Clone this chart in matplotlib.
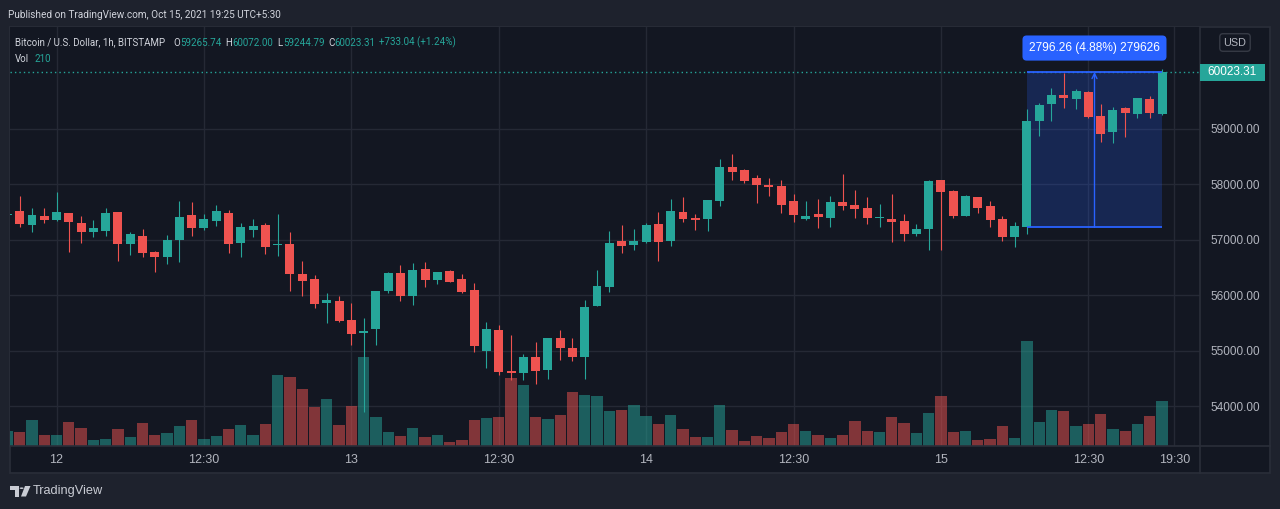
import matplotlib
matplotlib.use('Agg')
import matplotlib.pyplot as plt
import numpy as np
from matplotlib.patches import Rectangle, Polygon, Circle
from matplotlib.lines import Line2D
from matplotlib.transforms import blended_transform_factory

# ---------------- data (BTC/USD 1h, BITSTAMP) ----------------
opens = [57440, 57512, 57267, 57423, 57357, 57476, 57297, 57142, 57160, 57494,
         56927, 57064, 56778, 56694, 56999, 57441, 57214, 57339, 57476, 56945,
         57178, 57261, 56909, 56927, 56383, 56294, 55870, 55900, 55559, 55314,
         55398, 56079, 56401, 55995, 56473, 56282, 56437, 56294, 56097, 54992,
         55380, 54628, 54598, 54896, 54651, 55237, 55058, 54884, 55798, 56155,
         56978, 56906, 56960, 57284, 56978, 57500, 57392, 57374, 57699, 58311,
         58257, 58113, 57987, 57969, 57699, 57374, 57464, 57392, 57681, 57627,
         57573, 57392, 57374, 57338, 57104, 57194, 58077, 57879, 57429, 57771,
         57609, 57375, 57050, 57227.05, 59141, 59447, 59609, 59537, 59663, 59231,
         58942, 59375, 59267, 59537, 59265.74]
highs = [57490, 57781, 57566, 57566, 57853, 57476, 57423, 57351, 57566, 57494,
         57136, 57190, 56796, 57082, 57692, 57674, 57459, 57620, 57530, 57297,
         57369, 57297, 57459, 57136, 56616, 56365, 56043, 55989, 55864, 55595,
         56079, 56419, 56545, 56581, 56599, 56419, 56455, 56384, 56222, 55524,
         55470, 55291, 54950, 55165, 55237, 55380, 55237, 55918, 56455, 57158,
         57266, 57194, 57302, 57500, 57735, 57771, 57464, 57717, 58456, 58546,
         58275, 58167, 58113, 58077, 57825, 57699, 57735, 57789, 58185, 57897,
         57771, 57645, 57825, 57464, 57284, 58077, 58077, 57897, 57807, 57771,
         57699, 57429, 57321, 59357, 59465, 59735, 60006, 59717, 59681, 59447,
         59393, 59393, 59555, 59591, 60072.00]
lows = [57420, 57232, 57142, 57303, 57339, 56784, 56945, 57052, 57070, 56622,
        56730, 56694, 56425, 56569, 56604, 57070, 57178, 57250, 56766, 56694,
        57052, 56748, 56712, 56085, 55995, 55762, 55494, 55518, 55099, 53902,
        55099, 56049, 55906, 55834, 56157, 56210, 56246, 56049, 54974, 54687,
        54562, 54472, 54472, 54400, 54490, 54831, 54813, 54490, 55798, 56065,
        56762, 56816, 56942, 56617, 56888, 57320, 57176, 57158, 57609, 58077,
        58023, 57663, 57789, 57483, 57320, 57356, 57212, 57230, 57537, 57392,
        57284, 57230, 56960, 56978, 57068, 56816, 56816, 57393, 57429, 57483,
        57230, 56978, 56870, 57104, 58870, 59141, 59375, 59357, 59195, 58762,
        58744, 58852, 59195, 59195, 59244.79]
closes = [57470, 57285, 57441, 57357, 57494, 57321, 57142, 57208, 57476, 56927,
          57100, 56766, 56694, 56993, 57405, 57214, 57369, 57512, 56927, 57226,
          57244, 56873, 56927, 56390, 56264, 55852, 55918, 55529, 55297, 55362,
          56079, 56401, 55995, 56455, 56282, 56419, 56246, 56067, 55081, 55398,
          54616, 54598, 54896, 54634, 55237, 55046, 54884, 55792, 56169, 56942,
          56888, 56978, 57266, 56960, 57519, 57374, 57356, 57717, 58311, 58221,
          58059, 57987, 57951, 57627, 57447, 57428, 57410, 57681, 57609, 57555,
          57392, 57410, 57320, 57104, 57194, 58059, 57861, 57429, 57789, 57573,
          57357, 57050, 57249, 59141, 59429, 59609, 59555, 59681, 59213, 58906,
          59339, 59285, 59555, 59285, 60023.31]
volumes = [70, 65, 121, 51, 51, 112, 84, 28, 33, 79,
           42, 107, 51, 61, 93, 121, 33, 47, 79, 98,
           51, 103, 331, 322, 266, 182, 219, 98, 187, 415,
           135, 65, 47, 84, 42, 51, 19, 28, 121, 131,
           135, 317, 285, 135, 126, 145, 252, 238, 233, 163,
           168, 191, 140, 103, 145, 79, 42, 42, 191, 75,
           23, 47, 37, 65, 103, 70, 51, 37, 51, 117,
           70, 65, 135, 107, 61, 154, 233, 65, 70, 28,
           33, 93, 37, 490, 112, 168, 163, 93, 103, 149,
           79, 70, 103, 140, 210]
time_tick_idx = [4, 16, 28, 40, 52, 64, 76, 88, 95]
time_tick_labels = ['12', '12:30', '13', '12:30', '14', '12:30', '15', '12:30', '19:30']
price_ticks = [54000, 55000, 56000, 57000, 58000, 59000]
measure_start, measure_end = 83, 94
measure_low, measure_high = 57227.05, 60023.31
measure_label = '2796.26 (4.88%) 279626'
change_label = '+733.04 (+1.24%)'
last_close = closes[-1]

# ---------------- styling ----------------
W, H = 1280, 509
BG_OUT = '#1e222d'
BG_IN = '#131722'
FRAME = '#2a2e39'
GRID = '#252935'
UP = '#26a69a'
DOWN = '#ef5350'
TXT = '#d1d4dc'
AXTXT = '#b2b5be'
BLUE = '#2962ff'
NARROW = ['Roboto', 'DejaVu Sans']
SANS = ['Liberation Sans', 'DejaVu Sans']
HFS = 7.0

plt.rcParams['font.family'] = SANS

fig = plt.figure(figsize=(W / 100, H / 100), dpi=100)
fig.patch.set_facecolor(BG_OUT)


def fx(px):
    return px / W


def fy(py):
    return 1 - py / H


# chart frame (behind the axes)
fig.patches.append(Rectangle((fx(9.5), fy(473)), fx(1270) - fx(9.5), fy(26.5) - fy(473),
                             transform=fig.transFigure, facecolor=BG_IN, edgecolor=FRAME,
                             linewidth=1.2, zorder=-5))

rect = [fx(10), fy(446), fx(1200) - fx(10), fy(27) - fy(446)]
ax_v = fig.add_axes(rect)
ax_p = fig.add_axes(rect)
ax_v.set_zorder(1)
ax_p.set_zorder(2)
ax_v.set_facecolor(BG_IN)
ax_p.set_facecolor('none')

n = len(opens)
idx = np.arange(n)
o = np.array(opens, float)
h = np.array(highs, float)
l = np.array(lows, float)
c = np.array(closes, float)
v = np.array(volumes, float)
up = c >= o

xlim = (0.21, 97.09)
ylim = (53284, 60835)
ax_p.set_xlim(*xlim)
ax_v.set_xlim(*xlim)
ax_p.set_ylim(*ylim)
ax_v.set_ylim(0, 1955)

for a in (ax_v, ax_p):
    for s in a.spines.values():
        s.set_visible(False)

# grid
blend = blended_transform_factory(ax_v.transAxes, ax_p.transData)
for p in price_ticks:
    ax_v.plot([0, 1], [p, p], color=GRID, lw=1.0, transform=blend, zorder=0)
for t in time_tick_idx:
    ax_v.axvline(t, color=GRID, lw=1.0, zorder=0)

# volume
vcol = [UP if u else DOWN for u in up]
ax_v.bar(idx, v, width=0.92, color=vcol, alpha=0.5, linewidth=0, zorder=2)
ax_v.set_xticks([])
ax_v.set_yticks([])

# candles
ccol = [UP if u else DOWN for u in up]
px_price = (ylim[1] - ylim[0]) / 419.0
ax_p.vlines(idx, l, h, colors=ccol, linewidth=0.8, zorder=3)
body_bottom = np.minimum(o, c)
body_h = np.maximum(np.abs(c - o), px_price * 1.2)
ax_p.bar(idx, body_h, bottom=body_bottom, width=0.73, color=ccol, linewidth=0, zorder=4)

# last price dotted line
ax_p.axhline(last_close, color=UP, lw=1.0, ls=(0, (1, 2.2)), zorder=2)

# measure tool
ax_p.add_patch(Rectangle((measure_start, measure_low), measure_end - measure_start,
                         measure_high - measure_low, facecolor=BLUE, alpha=0.22,
                         edgecolor='none', zorder=1))
ax_p.hlines([measure_low, measure_high], measure_start, measure_end, colors=BLUE, lw=1.3, zorder=5)
mid = (measure_start + measure_end) / 2
ax_p.annotate('', xy=(mid, measure_high), xytext=(mid, measure_low),
              arrowprops=dict(arrowstyle='->', color=BLUE, lw=1.0, shrinkA=0, shrinkB=0,
                              mutation_scale=9), zorder=5)
ax_p.annotate(measure_label, xy=(mid, measure_high), xytext=(0, 24), textcoords='offset pixels',
              ha='center', va='center', color='white', fontsize=8.6, family=SANS,
              bbox=dict(boxstyle='round,pad=0.55,rounding_size=0.35', fc=BLUE, ec='none'),
              zorder=6, annotation_clip=False)

# axes ticks
ax_p.yaxis.tick_right()
ax_p.set_yticks(price_ticks)
ax_p.set_yticklabels([f'{p:.2f}' for p in price_ticks])
ax_p.tick_params(axis='y', length=0, pad=7.2, labelsize=8.5, labelcolor=AXTXT)
ax_p.set_xticks(time_tick_idx)
ax_p.set_xticklabels(time_tick_labels)
ax_p.tick_params(axis='x', length=0, pad=5.5, labelsize=9, labelcolor=AXTXT)

# separators
fig.lines.append(Line2D([fx(10), fx(1270)], [fy(446), fy(446)], transform=fig.transFigure,
                        color=FRAME, lw=1.2, zorder=10))
fig.lines.append(Line2D([fx(1200), fx(1200)], [fy(27), fy(473)], transform=fig.transFigure,
                        color=FRAME, lw=1.2, zorder=10))

# last price label on the axis
fig.canvas.draw()
ypx = ax_p.transData.transform((0, last_close))[1]
fig.patches.append(Rectangle((fx(1200), (ypx - 8.5) / H), fx(1265) - fx(1200), 17 / H,
                             transform=fig.transFigure, facecolor=UP, edgecolor='none', zorder=11))
fig.text(fx(1232), ypx / H, f'{last_close:.2f}', color='white', fontsize=8.5, ha='center',
         va='center', zorder=12)

# USD badge
fig.text(fx(1235), fy(42.5), 'USD', color=AXTXT, fontsize=7.8, ha='center', va='center',
         bbox=dict(boxstyle='round,pad=0.35,rounding_size=0.3', fc='none', ec='#363a45', lw=1.0))

# header
fig.text(fx(7.5), fy(15), 'Published on TradingView.com, Oct 15, 2021 19:25 UTC+5:30',
         color=TXT, fontsize=HFS + 0.2, family=NARROW, ha='left', va='center')

legend_y = fy(42.5)
pieces = [
    (15, 'Bitcoin / U.S. Dollar, 1h, BITSTAMP', TXT),
    (173, 'O', TXT), (180.5, f'{opens[-1]:.2f}', UP),
    (225, 'H', TXT), (232, f'{highs[-1]:.2f}', UP),
    (277.5, 'L', TXT), (283, f'{lows[-1]:.2f}', UP),
    (328, 'C', TXT), (334, f'{closes[-1]:.2f}', UP),
    (379, change_label, UP),
]
for xpx, s, col in pieces:
    fig.text(fx(xpx), legend_y, s, color=col, fontsize=HFS, family=NARROW, ha='left', va='center')
fig.text(fx(15), fy(58.5), 'Vol', color=TXT, fontsize=HFS, family=NARROW, ha='left', va='center')
fig.text(fx(34.5), fy(58.5), f'{volumes[-1]}', color=UP, fontsize=HFS, family=NARROW,
         ha='left', va='center')

# TradingView logo
LOGO = '#c9ccd4'


def P(pts):
    return [(fx(a), fy(b)) for a, b in pts]


fig.patches.append(Polygon(P([(10, 486), (19, 486), (19, 496.5), (15, 496.5), (15, 490), (10, 490)]),
                           closed=True, transform=fig.transFigure, facecolor=LOGO, edgecolor='none'))
fig.patches.append(Circle((fx(21.6), fy(488.2)), 2.0 / W, transform=fig.transFigure,
                          facecolor=LOGO, edgecolor='none'))
fig.patches.append(Polygon(P([(25, 486), (30.5, 486), (26, 496.5), (21, 496.5)]), closed=True,
                           transform=fig.transFigure, facecolor=LOGO, edgecolor='none'))
fig.text(fx(33), fy(491), 'TradingView', color=LOGO, fontsize=9.2, family=SANS, ha='left',
         va='center')

fig.savefig('out.png', dpi=100, facecolor=fig.get_facecolor())
